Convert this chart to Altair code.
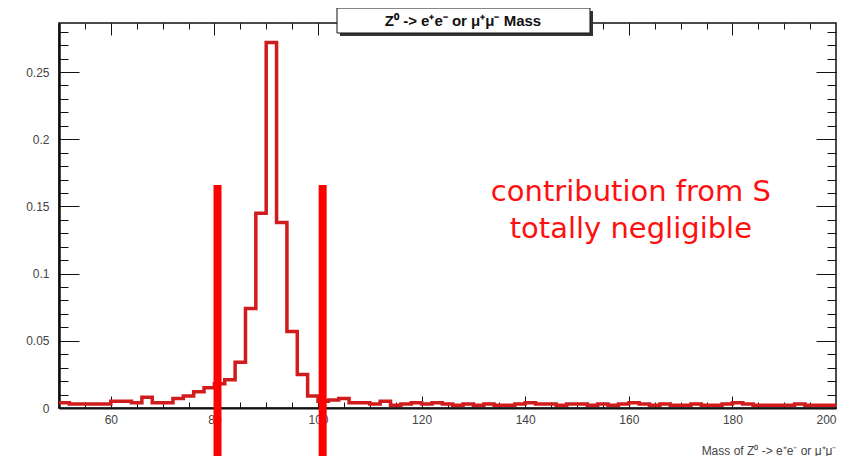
import altair as alt
import pandas as pd

# ---------------- data ----------------
bin_starts = list(range(50, 200, 2))          # 2 GeV bins, 50..200
bin_values = [
    0.004, 0.003, 0.003, 0.003, 0.003, 0.005, 0.005, 0.004, 0.008, 0.004,   # 50-68
    0.004, 0.007, 0.009, 0.012, 0.015, 0.018, 0.021, 0.034, 0.074, 0.145,   # 70-88
    0.272, 0.138, 0.057, 0.025, 0.009, 0.005, 0.006, 0.007, 0.004, 0.004,   # 90-108
    0.003, 0.005, 0.002, 0.003, 0.004, 0.003, 0.004, 0.003, 0.002, 0.003,   # 110-128
    0.002, 0.003, 0.002, 0.002, 0.003, 0.004, 0.003, 0.003, 0.002, 0.003,   # 130-148
    0.003, 0.002, 0.003, 0.002, 0.003, 0.004, 0.003, 0.002, 0.003, 0.002,   # 150-168
    0.002, 0.003, 0.002, 0.002, 0.003, 0.004, 0.003, 0.002, 0.002, 0.002,   # 170-188
    0.002, 0.003, 0.002, 0.002, 0.002,                                      # 190-198
]
x_end = 200

cut_positions = [80.6, 100.9]
cut_top = 0.166
cut_bottom = -0.05

note_lines = ["contribution from S", "totally negligible"]
note_x = [160.4, 160.4]
note_y = [0.161, 0.133]

x_label_values = [60, 80, 100, 120, 140, 160, 180, 200]
x_major_ticks = [60, 80, 100, 120, 140, 160, 180]
x_minor_ticks = [v for v in range(55, 200, 5)]
y_label_values = [0, 0.05, 0.1, 0.15, 0.2, 0.25]
y_minor_ticks = [round(i * 0.01, 2) for i in range(1, 29)]

title_text = "Z⁰ -> e⁺e⁻ or μ⁺μ⁻ Mass"
x_title = "Mass of Z⁰ -> e⁺e⁻ or μ⁺μ⁻"

# ---------------- tables ----------------
hist = pd.DataFrame({
    "mass": bin_starts + [x_end],
    "frac": bin_values + [bin_values[-1]],
})
cuts = pd.DataFrame({"mass": cut_positions,
                     "top": [cut_top] * len(cut_positions),
                     "bottom": [cut_bottom] * len(cut_positions)})
notes = pd.DataFrame({"nx": note_x, "ny": note_y, "line": note_lines})
title_df = pd.DataFrame({"t": [title_text]})

W, H = 777, 385
xs = alt.Scale(domain=[50, 200], nice=False, zero=False)
ys = alt.Scale(domain=[0, 0.2865], nice=False, zero=False)

LABEL_FONT = "Liberation Sans"
LABEL_COLOR = "#444444"


def axis_layer(xaxis, yaxis):
    return alt.Chart(hist).mark_point(opacity=0).encode(
        x=alt.X("mass:Q", scale=xs, axis=xaxis),
        y=alt.Y("frac:Q", scale=ys, axis=yaxis),
    )


def tick_axis(orient, values, size):
    return alt.Axis(orient=orient, values=values, labels=False, domain=False,
                    ticks=True, tickSize=size, offset=-size, tickColor="#111111",
                    tickWidth=1, grid=False, title=None)


label_layer = axis_layer(
    alt.Axis(orient="bottom", values=x_label_values, ticks=False, domain=True,
             domainColor="#111111", domainWidth=2, grid=False,
             labelFont=LABEL_FONT, labelFontSize=12, labelColor=LABEL_COLOR,
             labelPadding=6, title=x_title, titleAnchor="end", titleAlign="right",
             titleFont=LABEL_FONT, titleFontSize=12, titleFontWeight="normal",
             titleColor=LABEL_COLOR, titlePadding=20),
    alt.Axis(orient="left", values=y_label_values, format="~g", ticks=False,
             domain=True, domainColor="#111111", domainWidth=2.5, grid=False,
             labelFont=LABEL_FONT, labelFontSize=12, labelColor=LABEL_COLOR,
             labelPadding=10, title=None),
)
major_bl = axis_layer(tick_axis("bottom", x_major_ticks, 12),
                      tick_axis("left", y_label_values, 20))
minor_bl = axis_layer(tick_axis("bottom", x_minor_ticks, 6),
                      tick_axis("left", y_minor_ticks, 9))
major_tr = axis_layer(tick_axis("top", x_major_ticks, 12),
                      tick_axis("right", y_label_values, 20))
minor_tr = axis_layer(tick_axis("top", x_minor_ticks, 6),
                      tick_axis("right", y_minor_ticks, 9))

hist_line = alt.Chart(hist).mark_line(
    interpolate="step-after", color="#d01c1c", strokeWidth=3.5
).encode(
    x=alt.X("mass:Q", scale=xs, axis=None),
    y=alt.Y("frac:Q", scale=ys, axis=None),
)

cut_rules = alt.Chart(cuts).mark_rule(color="#ff0000", strokeWidth=8).encode(
    x=alt.X("mass:Q", scale=xs, axis=None),
    y=alt.Y("top:Q", scale=ys, axis=None),
    y2="bottom:Q",
)

note_text = alt.Chart(notes).mark_text(
    font="Comic Sans MS, DejaVu Sans, sans-serif", fontSize=29, color="#ff1010",
    align="center", baseline="middle"
).encode(
    x=alt.X("nx:Q", scale=xs, axis=None),
    y=alt.Y("ny:Q", scale=ys, axis=None),
    text="line:N",
)

title_shadow = alt.Chart(title_df).mark_rect(color="#333333").encode(
    x=alt.value(281), x2=alt.value(534), y=alt.value(-12), y2=alt.value(13))
title_box = alt.Chart(title_df).mark_rect(
    fill="white", stroke="#111111", strokeWidth=1).encode(
    x=alt.value(278), x2=alt.value(531), y=alt.value(-15), y2=alt.value(10))
title_txt = alt.Chart(title_df).mark_text(
    font=LABEL_FONT, fontSize=15, fontWeight="bold", color="#111111",
    align="center", baseline="middle").encode(
    x=alt.value(404), y=alt.value(-2), text="t:N")

chart = alt.layer(
    label_layer, major_bl, minor_bl, major_tr, minor_tr,
    hist_line, cut_rules, note_text, title_shadow, title_box, title_txt,
).resolve_axis(
    x="independent", y="independent"
).properties(
    width=W, height=H,
    autosize=alt.AutoSizeParams(type="none"),
    padding={"left": 51, "top": 15, "right": 6, "bottom": 48},
    background="white",
).configure_view(
    stroke="#111111", strokeWidth=1.5
)

chart.save("out.html", embed_options={"renderer": "svg", "actions": False})
